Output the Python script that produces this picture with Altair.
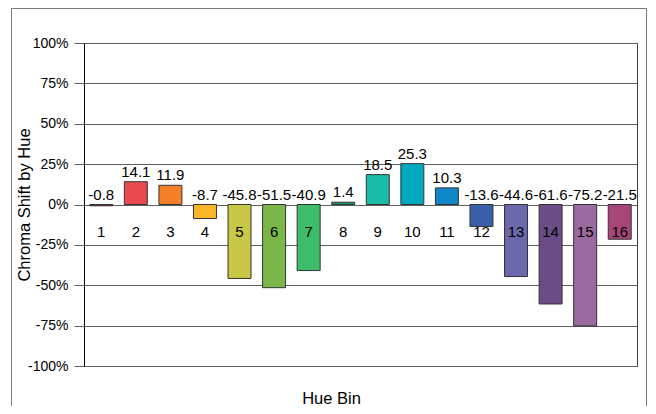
import altair as alt
import pandas as pd

bins = [str(i) for i in range(1, 17)]
shift = [-0.8, 14.1, 11.9, -8.7, -45.8, -51.5, -40.9, 1.4, 18.5, 25.3, 10.3,
         -13.6, -44.6, -61.6, -75.2, -21.5]
colors = ["#c8323c", "#e84a50", "#f58029", "#fbb52a", "#c9c846", "#7ab648",
          "#3dbd6a", "#1a9a70", "#1abca8", "#00a8c0", "#0f87c8", "#3a5faa",
          "#6b68ae", "#6a4c86", "#9b6aa0", "#a8467a"]
y_ticks = [-100, -75, -50, -25, 0, 25, 50, 75, 100]
cat_label_level = -17.3

df = pd.DataFrame({"bin": bins, "shift": shift, "color": colors})
df["label"] = df["shift"].map(lambda v: f"{v:.1f}")
df["top"] = df["shift"].clip(lower=0)
df["catpos"] = cat_label_level

FONT = "Liberation Sans"
GRID = "#5f5f5f"

xscale = alt.Scale(paddingInner=0.335, paddingOuter=0.1675)
yscale = alt.Scale(domain=[-100, 100], nice=False, zero=False)

x_axis = alt.Axis(labels=False, ticks=False, domain=False,
                  titleX=247, titleY=32, titleBaseline="middle", titleFont=FONT,
                  titleFontSize=16.5, titleFontWeight="normal", titleColor="#000")
y_axis = alt.Axis(values=y_ticks,
                  labelExpr="datum.value + '%'", tickSize=10, labelPadding=6,
                  grid=True, gridColor=GRID, gridOpacity=1, gridWidth=1,
                  tickColor=GRID, domainColor="#000", domainWidth=1,
                  labelFont=FONT, labelFontSize=14, labelColor="#000",
                  titleFont=FONT, titleFontSize=16.5, titleFontWeight="normal",
                  titleColor="#000", titleX=-60, titleY=161.5,
                  titleBaseline="middle")

X = alt.X("bin:N", sort=bins, scale=xscale, axis=x_axis, title="Hue Bin")


def Y(field):
    return alt.Y(field, scale=yscale, axis=y_axis, title="Chroma Shift by Hue")


base = alt.Chart(df)

bars = base.mark_bar(stroke="#333333", strokeWidth=1).encode(
    x=X,
    y=Y("shift:Q"),
    y2=alt.datum(0),
    color=alt.Color("color:N", scale=None),
)

vals = base.mark_text(baseline="alphabetic", dy=-5, font=FONT, fontSize=15,
                      color="#000").encode(
    x=X,
    y=Y("top:Q"),
    text="label:N",
)

cats = base.mark_text(baseline="middle", font=FONT, fontSize=15,
                      color="#000").encode(
    x=X,
    y=Y("catpos:Q"),
    text="bin:N",
)

border = alt.Chart(alt.Data(values=[{"a": 1}])).mark_rect(
    fill=None, stroke="#7a7a7a", strokeWidth=1).encode(
    x=alt.value(-72.5), x2=alt.value(562.5),
    y=alt.value(-34.5), y2=alt.value(420),
)

chart = alt.layer(bars, vals, cats, border).properties(
    width=553, height=323, autosize="none",
    padding={"left": 76, "top": 35, "right": 11, "bottom": 40},
    background="white",
).configure_view(stroke="#404040", strokeWidth=1)

chart.save("out.html", embed_options={"renderer": "svg", "actions": False})
